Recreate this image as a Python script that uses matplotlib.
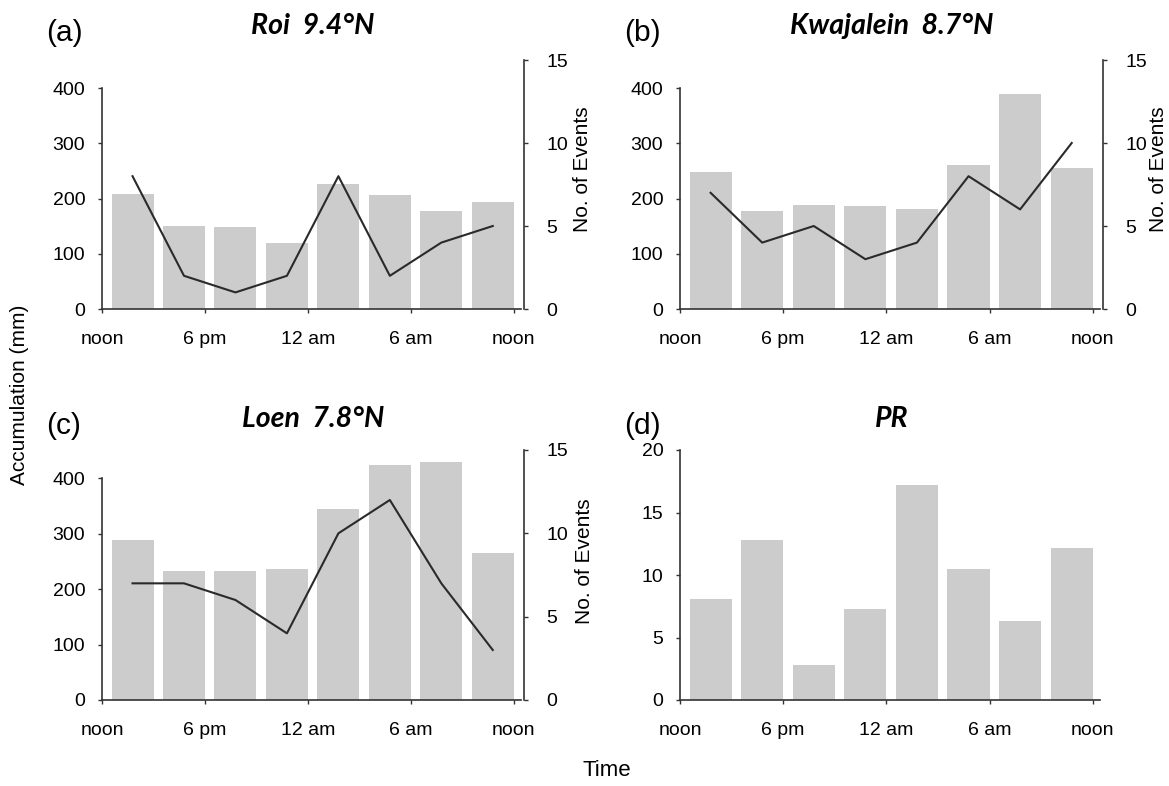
import numpy as np
import matplotlib
matplotlib.use("Agg")
import matplotlib.pyplot as plt

plt.rcParams['font.family'] = ['Liberation Sans', 'DejaVu Sans']

# 3-hour bins from noon to noon
hour_ticks = [0, 6, 12, 18, 24]
hour_labels = ['noon', '6 pm', '12 am', '6 am', 'noon']

roi_accum = [209, 150, 148, 120, 227, 207, 177, 193]
roi_events = [8, 2, 1, 2, 8, 2, 4, 5]

kwaj_accum = [249, 177, 189, 186, 181, 260, 389, 255]
kwaj_events = [7, 4, 5, 3, 4, 8, 6, 10]

loen_accum = [289, 233, 233, 236, 345, 424, 430, 266]
loen_events = [7, 7, 6, 4, 10, 12, 7, 3]

pr_events = [8.1, 12.8, 2.8, 7.3, 17.2, 10.5, 6.3, 12.2]

titles = ['Roi  9.4°N', 'Kwajalein  8.7°N', 'Loen  7.8°N', 'PR']
letters = ['(a)', '(b)', '(c)', '(d)']

bar_x = np.arange(8) * 3 + 1.78
bar_w = 2.45
bar_col = '#cccccc'
spine_col = '#333333'
tick_fs = 14
lab_fs = 15

W, H = 1169, 786
fig = plt.figure(figsize=(W / 100, H / 100), dpi=100)


def px_axes(left, right, bottom, top):
    return fig.add_axes([left / W, 1 - bottom / H, (right - left) / W, (bottom - top) / H])


def style_base(ax):
    for s in ['top', 'right']:
        ax.spines[s].set_visible(False)
    for s in ['left', 'bottom']:
        ax.spines[s].set_color(spine_col)
        ax.spines[s].set_linewidth(1.2)
    ax.set_xlim(0, 24.6)
    ax.spines['bottom'].set_bounds(0, 24.4)
    ax.set_xticks(hour_ticks)
    ax.set_xticklabels(hour_labels)
    ax.tick_params(axis='both', direction='out', length=3, width=1, color=spine_col,
                   labelsize=tick_fs, pad=9)
    ax.tick_params(axis='x', pad=13)


def panel(ax, accum, events):
    ax.bar(bar_x, accum, width=bar_w, color=bar_col, zorder=1)
    style_base(ax)
    ax.set_ylim(0, 451)
    ax.set_yticks([0, 100, 200, 300, 400])
    ax.spines['left'].set_bounds(0, 400)
    ax2 = ax.twinx()
    ax2.plot(bar_x, events, color='#2a2a2a', lw=1.5)
    ax2.set_ylim(0, 15)
    ax2.set_yticks([0, 5, 10, 15])
    for s in ['top', 'left', 'bottom']:
        ax2.spines[s].set_visible(False)
    ax2.spines['right'].set_color(spine_col)
    ax2.spines['right'].set_linewidth(1.2)
    ax2.tick_params(axis='y', direction='out', length=3, width=1, color=spine_col,
                    labelsize=tick_fs, pad=13)
    return ax2


ax_a = px_axes(102, 524, 309, 60)
ax_b = px_axes(680, 1103, 309, 60)
ax_c = px_axes(102, 524, 700, 450)
ax_d = px_axes(680, 1103, 700, 450)

panel(ax_a, roi_accum, roi_events)
panel(ax_b, kwaj_accum, kwaj_events)
panel(ax_c, loen_accum, loen_events)

ax_d.bar(bar_x, pr_events, width=bar_w, color=bar_col)
style_base(ax_d)
ax_d.set_ylim(0, 20)
ax_d.set_yticks([0, 5, 10, 15, 20])

title_font = dict(family=['Lato', 'DejaVu Sans'], weight='bold', style='italic', size=20.5)
for ax, t, l, ty, ly in [(ax_a, titles[0], letters[0], 34, 33),
                         (ax_b, titles[1], letters[1], 34, 33),
                         (ax_c, titles[2], letters[2], 427, 426),
                         (ax_d, titles[3], letters[3], 427, 426)]:
    pos = ax.get_position()
    cx = pos.x0 + pos.width / 2
    fig.text(cx, 1 - ty / H, t, ha='center', va='baseline', **title_font)
    fig.text(pos.x0 - 56 / W, 1 - ly / H, l, ha='left', va='center', fontsize=21.5)

# event-count axis labels (the middle one in the bottom row serves (c) and (d))
for x, y in [(583, 169), (1159, 169), (584, 561)]:
    fig.text(x / W, 1 - y / H, 'No. of Events', rotation=90, ha='center', va='center',
             fontsize=lab_fs)

fig.text(20 / W, 1 - 395 / H, 'Accumulation (mm)', rotation=90, ha='center', va='center',
         fontsize=lab_fs)
fig.text(607 / W, 1 - 771 / H, 'Time', ha='center', va='center', fontsize=16)

fig.savefig('out.png', dpi=100)
